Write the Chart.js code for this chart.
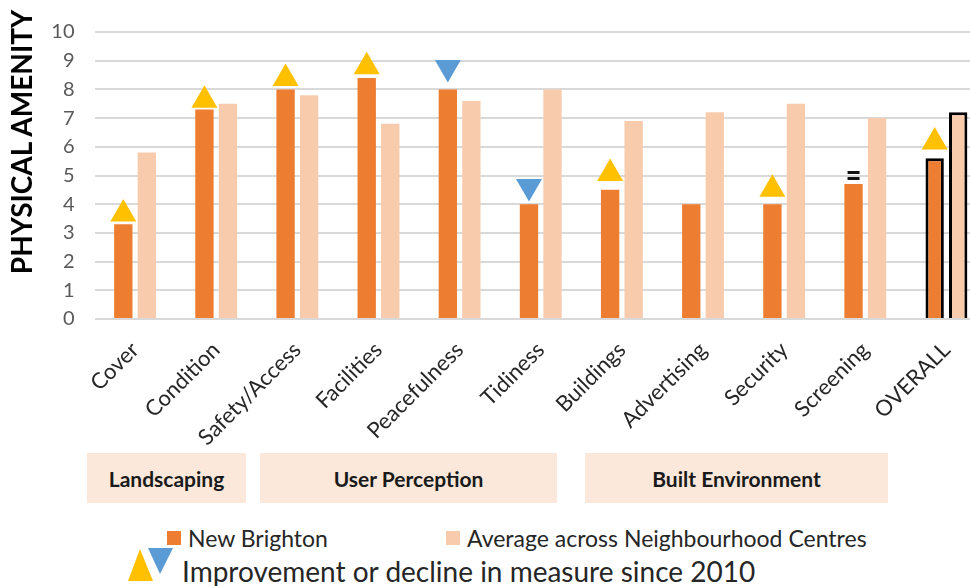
<!DOCTYPE html>
<html>
<head>
<meta charset="utf-8">
<script src="https://cdn.jsdelivr.net/npm/chart.js@4.4.1/dist/chart.umd.min.js"></script>
<style>
  html, body { margin:0; padding:0; background:#fff; }
  body { width:970px; height:586px; overflow:hidden; position:relative; font-family: Lato, "Open Sans", sans-serif; }
  #wrap { position:absolute; left:0; top:0; width:1002px; height:445px; }
  .ytitle { position:absolute; left:21px; top:142px; width:320px; text-align:center; font-weight:bold; font-size:28px; color:#000;
            transform: translate(-50%,-50%) rotate(-90deg); white-space:nowrap; line-height:1; }
  .group { position:absolute; top:453px; height:50px; background:#FBE8DB; display:flex; align-items:center; justify-content:center;
           font-weight:bold; font-size:21px; color:#1a1a1a; }
  .leg { position:absolute; color:#262626; white-space:nowrap; line-height:1; }
  .sq { position:absolute; width:14px; height:14px; }
</style>
</head>
<body>
<div id="wrap"><canvas id="c" width="1002" height="445"></canvas></div>
<div class="ytitle">PHYSICAL AMENITY</div>
<div class="group" style="left:87px;width:159px">Landscaping</div>
<div class="group" style="left:260px;width:297px">User Perception</div>
<div class="group" style="left:585px;width:303px">Built Environment</div>
<div class="sq" style="left:167px;top:531px;background:#ED7D31"></div>
<div class="leg" style="left:188px;top:527px;font-size:23px">New Brighton</div>
<div class="sq" style="left:446px;top:531px;background:#F8CBAD"></div>
<div class="leg" style="left:467px;top:527px;font-size:23px">Average across Neighbourhood Centres</div>
<svg style="position:absolute;left:126px;top:548px" width="50" height="38">
  <polygon points="2,33 14,1 27,33" fill="#FFC000"/>
  <polygon points="22,0 47,0 34,26" fill="#5B9BD5"/>
</svg>
<div class="leg" style="left:182px;top:557px;font-size:28px">Improvement or decline in measure since 2010</div>
<script>
const categories = ['Cover','Condition','Safety/Access','Facilities','Peacefulness','Tidiness','Buildings','Advertising','Security','Screening','OVERALL'];
const newBrighton = [3.3, 7.3, 8.0, 8.4, 8.0, 4.0, 4.5, 4.0, 4.0, 4.7, 5.6];
const neighbourhoodAvg = [5.8, 7.5, 7.8, 6.8, 7.6, 8.0, 6.9, 7.2, 7.5, 7.0, 7.2];
// change since 2010: 'up' improvement, 'down' decline, '=' no change, null none
const change2010 = ['up','up','up','up','down','down','up',null,'up','=','up'];
// marker centre heights (in axis units)
const markerY = [3.66, 7.62, 8.38, 8.79, 8.76, 4.62, 5.07, null, 4.52, 5.0, 6.17];
const yTicks = [0,1,2,3,4,5,6,7,8,9,10];

const DARK = '#ED7D31', LIGHT = '#F8CBAD', GOLD = '#FFC000', BLUE = '#5B9BD5';

const markerData = kind => change2010.map((c, i) => c === kind ? markerY[i] : null);

// "=" glyph used as a point style
const eqImg = document.createElement('canvas');
eqImg.width = 14; eqImg.height = 11;
(() => { const g = eqImg.getContext('2d'); g.fillStyle = '#111'; g.fillRect(1, 1, 12, 3); g.fillRect(1, 7, 12, 3); })();

// markers sit over the New Brighton bar of each category
const alignMarkers = {
  id: 'alignMarkers',
  afterDatasetsUpdate(chart) {
    const barMeta = chart.getDatasetMeta(0);
    chart.data.datasets.forEach((ds, di) => {
      if (!ds.isMarker) return;
      chart.getDatasetMeta(di).data.forEach((pt, i) => { const b = barMeta.data[i]; if (b) pt.x = b.x; });
    });
  }
};

const last = categories.length - 1;
const borderW = categories.map((c, i) => i === last ? 3 : 0);
const marker = (data, style, rot, color) => ({
  type:'line', isMarker:true, data, showLine:false, pointStyle:style, pointRotation:rot, pointRadius:15,
  pointBackgroundColor:color, pointBorderWidth:0, pointHoverRadius:15, order:0, clip:false
});

new Chart(document.getElementById('c'), {
  type: 'bar',
  data: {
    labels: categories,
    datasets: [
      { label:'New Brighton', data: newBrighton, backgroundColor: DARK, borderColor:'#000', borderWidth: borderW,
        order:1, categoryPercentage:0.58, barPercentage:0.78 },
      { label:'Average across Neighbourhood Centres', data: neighbourhoodAvg, backgroundColor: LIGHT, borderColor:'#000',
        borderWidth: borderW, order:1, categoryPercentage:0.58, barPercentage:0.78 },
      marker(markerData('up'), 'triangle', 0, GOLD),
      marker(markerData('down'), 'triangle', 180, BLUE),
      marker(markerData('='), eqImg, 0, '#111')
    ]
  },
  plugins: [alignMarkers],
  options: {
    responsive:false, animation:false, devicePixelRatio:1,
    layout:{ padding:{ top:29, left:0, right:0, bottom:0 } },
    plugins:{ legend:{ display:false }, tooltip:{ enabled:false } },
    scales:{
      x:{ offset:true, grid:{ display:false, drawTicks:false }, border:{ display:false },
          ticks:{ minRotation:45, maxRotation:45, autoSkip:false, padding:18, color:'#262626', font:{ family:'Lato', size:22 } },
          afterFit: s => { s.height = 445 - 319; s.paddingLeft = 0; s.paddingRight = 0; } },
      y:{ min:0, max:10, afterBuildTicks: s => { s.ticks = yTicks.map(v => ({value:v})); },
          grid:{ color:'#D9D9D9', lineWidth:2, drawTicks:false }, border:{ display:false },
          ticks:{ padding:20, color:'#595959', font:{ family:'Lato', size:20 } },
          afterFit: s => { s.width = 94.5; } }
    }
  }
});
</script>
</body>
</html>
